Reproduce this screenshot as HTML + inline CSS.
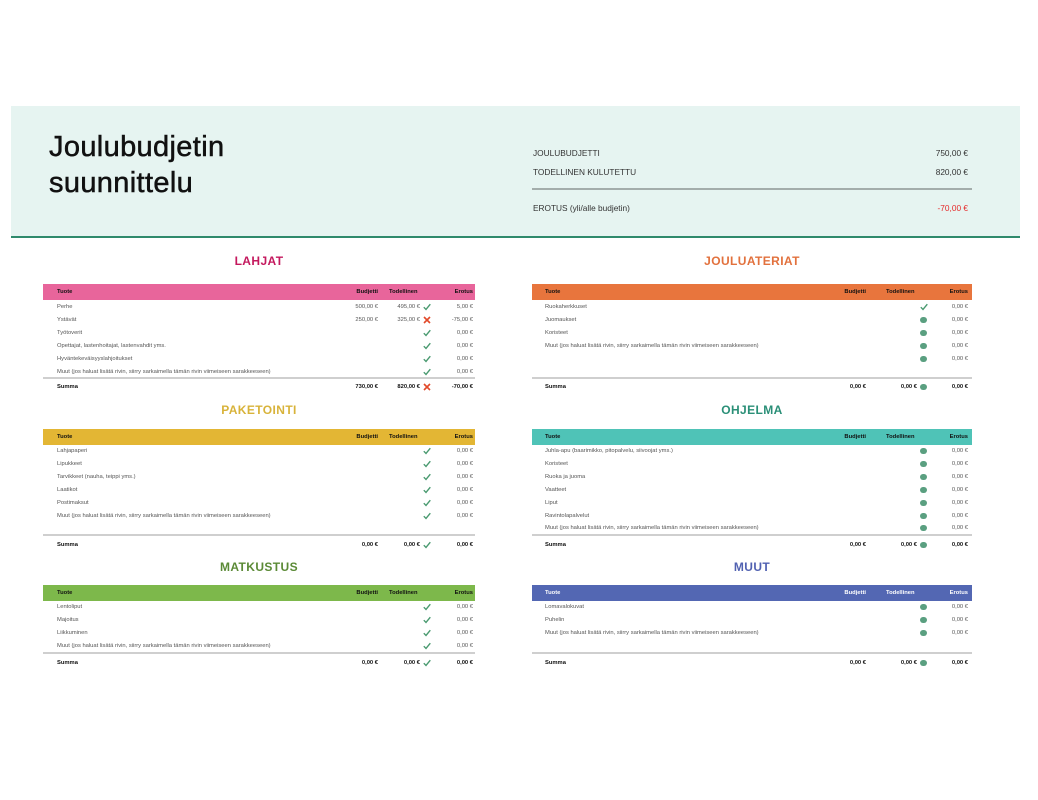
<!DOCTYPE html>
<html><head><meta charset="utf-8">
<style>
*{margin:0;padding:0;box-sizing:border-box}
html,body{width:1038px;height:800px;background:#fff;overflow:hidden;position:relative;font-family:"Liberation Sans",sans-serif}
.abs{position:absolute}
#hdr{position:absolute;left:11px;top:106px;width:1009px;height:130px;background:#e6f4f1}
#hline{position:absolute;left:11px;top:236px;width:1009px;height:2px;background:#2f8a6c}
.title1{position:absolute;left:49px;font-size:29px;color:#111;line-height:36px;letter-spacing:0.35px;-webkit-text-stroke:0.5px #111}
.sum{position:absolute;font-size:8.3px;color:#333;line-height:10px;white-space:nowrap}
.sec{position:absolute;font-weight:bold;font-size:12px;letter-spacing:0.4px;text-align:center;width:300px;line-height:14px}
.bar{position:absolute;height:16px}
.row{position:absolute;left:0;width:1038px;height:10px;line-height:10px;font-size:5.8px;color:#555;white-space:nowrap}
.row span{position:absolute;top:0}
.hd{font-weight:bold;color:#111}
.hd.w{color:#fff}
.tot{font-weight:bold;color:#111}
.gl{position:absolute;height:2px;background:#cfcfcf}
.L .n{left:57px}.L .b{right:660px}.L .a{right:618px}.L .i{left:423px}.L .e{right:565px}.L .t{left:389px}
.R .n{left:545px}.R .b{right:172px}.R .a{right:121px}.R .i{left:920px}.R .e{right:70px}.R .t{left:886px}
.ck{width:8px;height:8px;top:1px!important}
.dot{width:6.5px;height:6.5px;border-radius:50%;background:#5a9f80;top:1.5px!important}
</style></head><body>

<div id="hdr"></div>
<div id="hline"></div>
<div class="title1" style="top:129px">Joulubudjetin</div>
<div class="title1" style="top:165px">suunnittelu</div>

<div class="sum" style="left:533px;top:148px">JOULUBUDJETTI</div>
<div class="sum" style="right:70px;top:148px">750,00 €</div>
<div class="sum" style="left:533px;top:167px">TODELLINEN KULUTETTU</div>
<div class="sum" style="right:70px;top:167px">820,00 €</div>
<div class="abs" style="left:532px;top:188px;width:440px;height:2px;background:#a3adab"></div>
<div class="sum" style="left:533px;top:203px">EROTUS (yli/alle budjetin)</div>
<div class="sum" style="right:70px;top:203px;color:#e52b2b">-70,00 €</div>

<!-- Section titles -->
<div class="sec" style="left:109px;top:254px;color:#c4195e">LAHJAT</div>
<div class="sec" style="left:602px;top:254px;color:#e2713d">JOULUATERIAT</div>
<div class="sec" style="left:109px;top:403px;color:#d8b33a">PAKETOINTI</div>
<div class="sec" style="left:602px;top:403px;color:#2a8f77">OHJELMA</div>
<div class="sec" style="left:109px;top:560px;color:#5b8a36">MATKUSTUS</div>
<div class="sec" style="left:602px;top:560px;color:#5161b1">MUUT</div>

<!-- Bars -->
<div class="bar" style="left:43px;top:284px;width:432px;background:#e8659b"></div>
<div class="bar" style="left:532px;top:284px;width:440px;background:#e8753d"></div>
<div class="bar" style="left:43px;top:429px;width:432px;background:#e3b634"></div>
<div class="bar" style="left:532px;top:429px;width:440px;background:#4fc3b7"></div>
<div class="bar" style="left:43px;top:585px;width:432px;background:#7db84b"></div>
<div class="bar" style="left:532px;top:585px;width:440px;background:#5367b3"></div>

<!-- Gray lines -->
<div class="gl" style="left:43px;top:377px;width:432px"></div>
<div class="gl" style="left:532px;top:377px;width:440px"></div>
<div class="gl" style="left:43px;top:534px;width:432px"></div>
<div class="gl" style="left:532px;top:534px;width:440px"></div>
<div class="gl" style="left:43px;top:652px;width:432px"></div>
<div class="gl" style="left:532px;top:652px;width:440px"></div>

<svg width="0" height="0" style="position:absolute">
<defs>
<symbol id="chk" viewBox="0 0 8 8"><path d="M0.8 4.2 L3 6.5 L7.3 1.2" fill="none" stroke="#4a9a70" stroke-width="1.4"/></symbol>
<symbol id="xx" viewBox="0 0 8 8"><path d="M1 1 L7 7 M7 1 L1 7" fill="none" stroke="#e2492a" stroke-width="1.6"/></symbol>
</defs>
</svg>

<!-- LAHJAT -->
<div class="L">
<div class="row" style="top:287px"><span class="n hd">Tuote</span><span class="b hd">Budjetti</span><span class="t hd">Todellinen</span><span class="e hd">Erotus</span></div>
<div class="row" style="top:302px"><span class="n">Perhe</span><span class="b">500,00 €</span><span class="a">495,00 €</span><svg class="i ck abs"><use href="#chk"/></svg><span class="e">5,00 €</span></div>
<div class="row" style="top:315px"><span class="n">Ystävät</span><span class="b">250,00 €</span><span class="a">325,00 €</span><svg class="i ck abs"><use href="#xx"/></svg><span class="e">-75,00 €</span></div>
<div class="row" style="top:328px"><span class="n">Työtoverit</span><svg class="i ck abs"><use href="#chk"/></svg><span class="e">0,00 €</span></div>
<div class="row" style="top:341px"><span class="n">Opettajat, lastenhoitajat, lastenvahdit yms.</span><svg class="i ck abs"><use href="#chk"/></svg><span class="e">0,00 €</span></div>
<div class="row" style="top:354px"><span class="n">Hyväntekeväisyyslahjoitukset</span><svg class="i ck abs"><use href="#chk"/></svg><span class="e">0,00 €</span></div>
<div class="row" style="top:367px"><span class="n">Muut (jos haluat lisätä rivin, siirry sarkaimella tämän rivin viimeiseen sarakkeeseen)</span><svg class="i ck abs"><use href="#chk"/></svg><span class="e">0,00 €</span></div>
<div class="row" style="top:382px"><span class="n tot">Summa</span><span class="b tot">730,00 €</span><span class="a tot">820,00 €</span><svg class="i ck abs"><use href="#xx"/></svg><span class="e tot">-70,00 €</span></div>
</div>

<!-- JOULUATERIAT -->
<div class="R">
<div class="row" style="top:287px"><span class="n hd">Tuote</span><span class="b hd">Budjetti</span><span class="t hd">Todellinen</span><span class="e hd">Erotus</span></div>
<div class="row" style="top:302px"><span class="n">Ruokaherkkuset</span><svg class="i ck abs"><use href="#chk"/></svg><span class="e">0,00 €</span></div>
<div class="row" style="top:315px"><span class="n">Juomaukset</span><div class="i dot abs"></div><span class="e">0,00 €</span></div>
<div class="row" style="top:328px"><span class="n">Koristeet</span><div class="i dot abs"></div><span class="e">0,00 €</span></div>
<div class="row" style="top:341px"><span class="n">Muut (jos haluat lisätä rivin, siirry sarkaimella tämän rivin viimeiseen sarakkeeseen)</span><div class="i dot abs"></div><span class="e">0,00 €</span></div>
<div class="row" style="top:354px"><div class="i dot abs"></div><span class="e">0,00 €</span></div>
<div class="row" style="top:382px"><span class="n tot">Summa</span><span class="b tot">0,00 €</span><span class="a tot">0,00 €</span><div class="i dot abs"></div><span class="e tot">0,00 €</span></div>
</div>

<!-- PAKETOINTI -->
<div class="L">
<div class="row" style="top:432px"><span class="n hd">Tuote</span><span class="b hd">Budjetti</span><span class="t hd">Todellinen</span><span class="e hd">Erotus</span></div>
<div class="row" style="top:446px"><span class="n">Lahjapaperi</span><svg class="i ck abs"><use href="#chk"/></svg><span class="e">0,00 €</span></div>
<div class="row" style="top:459px"><span class="n">Lipukkeet</span><svg class="i ck abs"><use href="#chk"/></svg><span class="e">0,00 €</span></div>
<div class="row" style="top:472px"><span class="n">Tarvikkeet (nauha, teippi yms.)</span><svg class="i ck abs"><use href="#chk"/></svg><span class="e">0,00 €</span></div>
<div class="row" style="top:485px"><span class="n">Laatikot</span><svg class="i ck abs"><use href="#chk"/></svg><span class="e">0,00 €</span></div>
<div class="row" style="top:498px"><span class="n">Postimaksut</span><svg class="i ck abs"><use href="#chk"/></svg><span class="e">0,00 €</span></div>
<div class="row" style="top:511px"><span class="n">Muut (jos haluat lisätä rivin, siirry sarkaimella tämän rivin viimeiseen sarakkeeseen)</span><svg class="i ck abs"><use href="#chk"/></svg><span class="e">0,00 €</span></div>
<div class="row" style="top:540px"><span class="n tot">Summa</span><span class="b tot">0,00 €</span><span class="a tot">0,00 €</span><svg class="i ck abs"><use href="#chk"/></svg><span class="e tot">0,00 €</span></div>
</div>

<!-- OHJELMA -->
<div class="R">
<div class="row" style="top:432px"><span class="n hd">Tuote</span><span class="b hd">Budjetti</span><span class="t hd">Todellinen</span><span class="e hd">Erotus</span></div>
<div class="row" style="top:446px"><span class="n">Juhla-apu (baarimikko, pitopalvelu, siivoojat yms.)</span><div class="i dot abs"></div><span class="e">0,00 €</span></div>
<div class="row" style="top:459px"><span class="n">Koristeet</span><div class="i dot abs"></div><span class="e">0,00 €</span></div>
<div class="row" style="top:472px"><span class="n">Ruoka ja juoma</span><div class="i dot abs"></div><span class="e">0,00 €</span></div>
<div class="row" style="top:485px"><span class="n">Vaatteet</span><div class="i dot abs"></div><span class="e">0,00 €</span></div>
<div class="row" style="top:498px"><span class="n">Liput</span><div class="i dot abs"></div><span class="e">0,00 €</span></div>
<div class="row" style="top:511px"><span class="n">Ravintolapalvelut</span><div class="i dot abs"></div><span class="e">0,00 €</span></div>
<div class="row" style="top:523px"><span class="n">Muut (jos haluat lisätä rivin, siirry sarkaimella tämän rivin viimeiseen sarakkeeseen)</span><div class="i dot abs"></div><span class="e">0,00 €</span></div>
<div class="row" style="top:540px"><span class="n tot">Summa</span><span class="b tot">0,00 €</span><span class="a tot">0,00 €</span><div class="i dot abs"></div><span class="e tot">0,00 €</span></div>
</div>

<!-- MATKUSTUS -->
<div class="L">
<div class="row" style="top:588px"><span class="n hd">Tuote</span><span class="b hd">Budjetti</span><span class="t hd">Todellinen</span><span class="e hd">Erotus</span></div>
<div class="row" style="top:602px"><span class="n">Lentoliput</span><svg class="i ck abs"><use href="#chk"/></svg><span class="e">0,00 €</span></div>
<div class="row" style="top:615px"><span class="n">Majoitus</span><svg class="i ck abs"><use href="#chk"/></svg><span class="e">0,00 €</span></div>
<div class="row" style="top:628px"><span class="n">Liikkuminen</span><svg class="i ck abs"><use href="#chk"/></svg><span class="e">0,00 €</span></div>
<div class="row" style="top:641px"><span class="n">Muut (jos haluat lisätä rivin, siirry sarkaimella tämän rivin viimeiseen sarakkeeseen)</span><svg class="i ck abs"><use href="#chk"/></svg><span class="e">0,00 €</span></div>
<div class="row" style="top:658px"><span class="n tot">Summa</span><span class="b tot">0,00 €</span><span class="a tot">0,00 €</span><svg class="i ck abs"><use href="#chk"/></svg><span class="e tot">0,00 €</span></div>
</div>

<!-- MUUT -->
<div class="R">
<div class="row" style="top:588px"><span class="n hd w">Tuote</span><span class="b hd w">Budjetti</span><span class="t hd w">Todellinen</span><span class="e hd w">Erotus</span></div>
<div class="row" style="top:602px"><span class="n">Lomavalokuvat</span><div class="i dot abs"></div><span class="e">0,00 €</span></div>
<div class="row" style="top:615px"><span class="n">Puhelin</span><div class="i dot abs"></div><span class="e">0,00 €</span></div>
<div class="row" style="top:628px"><span class="n">Muut (jos haluat lisätä rivin, siirry sarkaimella tämän rivin viimeiseen sarakkeeseen)</span><div class="i dot abs"></div><span class="e">0,00 €</span></div>
<div class="row" style="top:658px"><span class="n tot">Summa</span><span class="b tot">0,00 €</span><span class="a tot">0,00 €</span><div class="i dot abs"></div><span class="e tot">0,00 €</span></div>
</div>

</body></html>
